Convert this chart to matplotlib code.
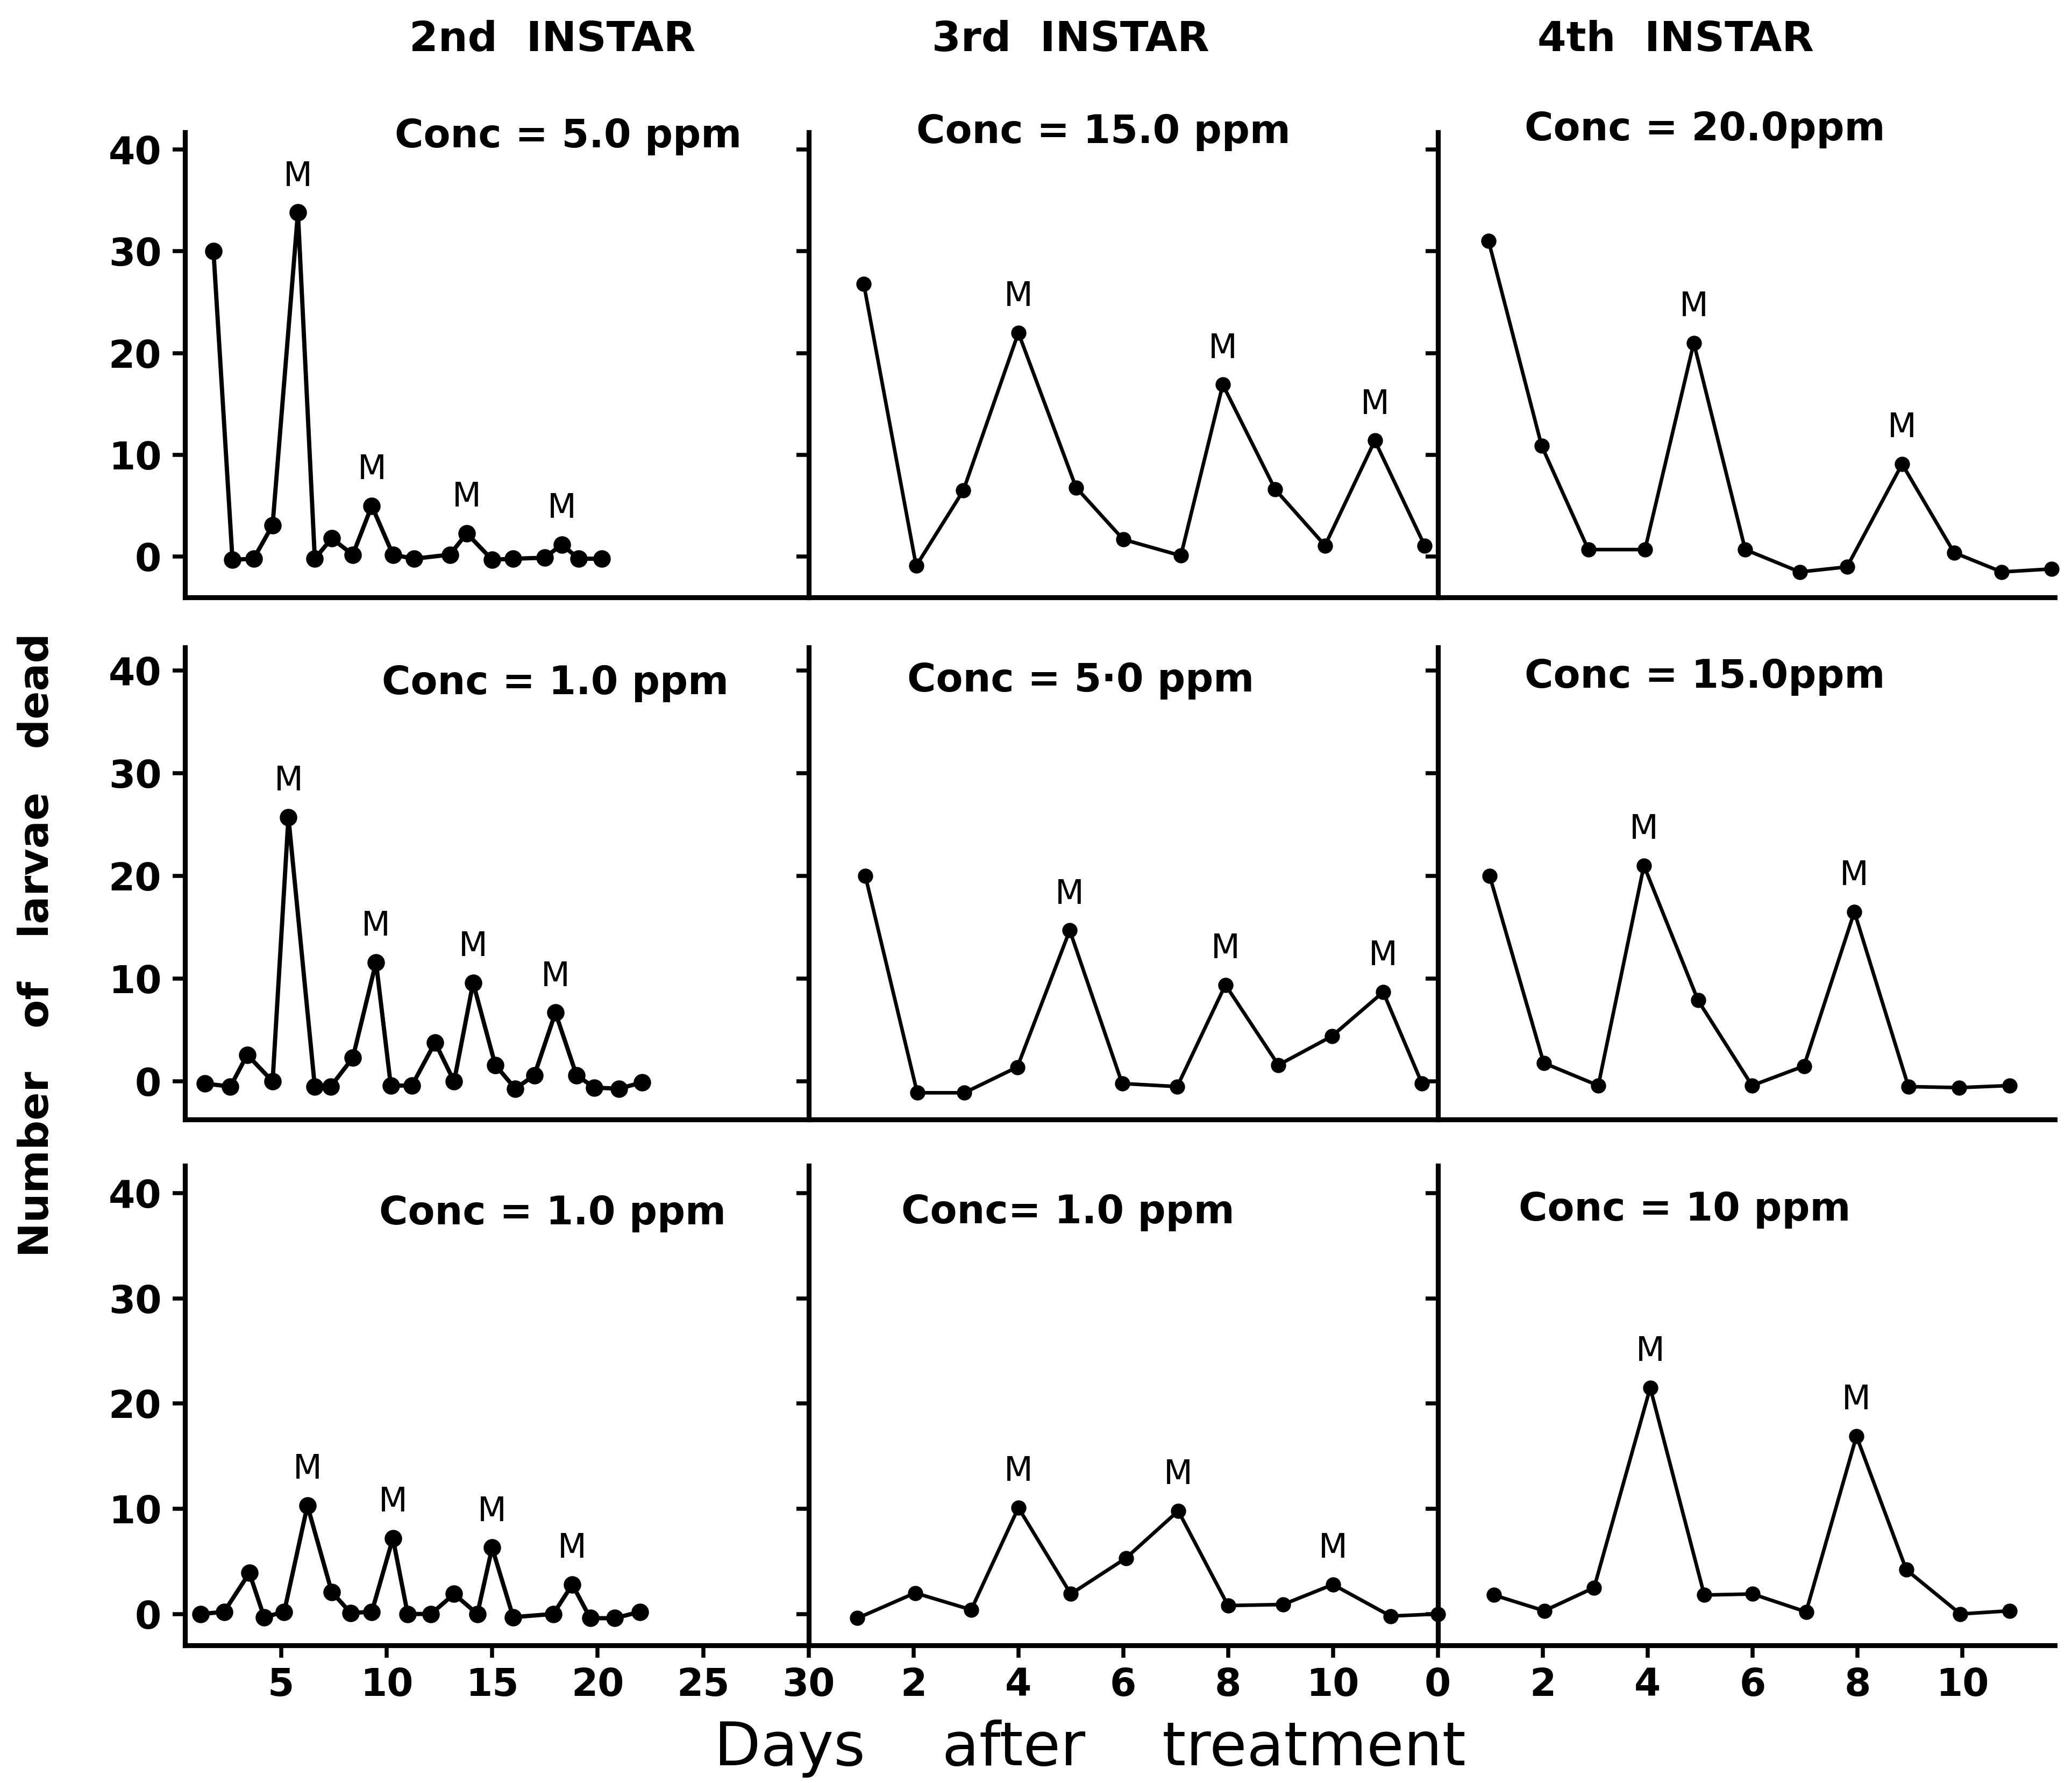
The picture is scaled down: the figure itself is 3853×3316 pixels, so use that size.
import matplotlib
matplotlib.use("Agg")
import matplotlib.pyplot as plt

plt.rcParams["font.family"] = ["DejaVu Sans"]

# ===================== data =====================
instar_titles = ["2nd  INSTAR", "3rd  INSTAR", "4th  INSTAR"]
conc_labels = [
    ["Conc = 5.0 ppm", "Conc = 15.0 ppm", "Conc = 20.0ppm"],
    ["Conc = 1.0 ppm", "Conc = 5·0 ppm", "Conc = 15.0ppm"],
    ["Conc = 1.0 ppm", "Conc= 1.0 ppm", "Conc = 10 ppm"],
]

# 2nd instar, 5.0 ppm
days_2nd_5 = [1.8, 2.7, 3.7, 4.6, 5.8, 6.6, 7.4, 8.4, 9.3, 10.3, 11.3, 13.0, 13.8, 15.0, 16.0, 17.5, 18.3, 19.1, 20.2]
dead_2nd_5 = [30.0, -0.3, -0.2, 3.1, 33.8, -0.2, 1.8, 0.2, 5.0, 0.2, -0.2, 0.2, 2.3, -0.3, -0.2, -0.1, 1.2, -0.2, -0.2]
molt_2nd_5 = [4, 8, 12, 16]

# 3rd instar, 15.0 ppm
days_3rd_15 = [1.05, 2.05, 2.95, 4.0, 5.1, 6.0, 7.1, 7.9, 8.9, 9.85, 10.8, 11.75]
dead_3rd_15 = [26.8, -0.9, 6.5, 22.0, 6.8, 1.7, 0.1, 16.9, 6.6, 1.1, 11.4, 1.1]
molt_3rd_15 = [3, 7, 10]

# 4th instar, 20.0 ppm
days_4th_20 = [0.97, 1.98, 2.87, 3.95, 4.88, 5.86, 6.9, 7.8, 8.85, 9.84, 10.75, 11.7]
dead_4th_20 = [31.0, 10.9, 0.7, 0.7, 21.0, 0.7, -1.5, -1.0, 9.1, 0.4, -1.5, -1.2]
molt_4th_20 = [4, 8]

# 2nd instar, 1.0 ppm (middle row)
days_2nd_1a = [1.4, 2.6, 3.4, 4.6, 5.35, 6.6, 7.35, 8.4, 9.5, 10.2, 11.2, 12.3, 13.2, 14.1, 15.15, 16.1, 17.0, 18.0, 19.0, 19.85, 21.0, 22.1]
dead_2nd_1a = [-0.2, -0.5, 2.6, 0.0, 25.7, -0.5, -0.5, 2.3, 11.6, -0.4, -0.4, 3.8, 0.0, 9.6, 1.6, -0.7, 0.6, 6.7, 0.6, -0.6, -0.7, -0.1]
molt_2nd_1a = [4, 8, 13, 17]

# 3rd instar, 5.0 ppm
days_3rd_5 = [1.08, 2.07, 2.97, 3.98, 4.98, 5.98, 7.03, 7.95, 8.96, 9.98, 10.96, 11.7]
dead_3rd_5 = [20.0, -1.1, -1.1, 1.4, 14.7, -0.2, -0.5, 9.4, 1.6, 4.4, 8.7, -0.2]
molt_3rd_5 = [4, 7, 10]

# 4th instar, 15.0 ppm
days_4th_15 = [0.99, 2.02, 3.06, 3.93, 4.96, 5.99, 6.98, 7.94, 8.97, 9.94, 10.9]
dead_4th_15 = [20.0, 1.8, -0.4, 21.0, 7.9, -0.4, 1.5, 16.5, -0.5, -0.6, -0.4]
molt_4th_15 = [3, 7]

# 2nd instar, 1.0 ppm (bottom row)
days_2nd_1b = [1.2, 2.3, 3.5, 4.2, 5.15, 6.25, 7.4, 8.3, 9.3, 10.3, 11.0, 12.1, 13.2, 14.3, 15.0, 16.0, 17.9, 18.8, 19.65, 20.8, 22.0]
dead_2nd_1b = [0.0, 0.2, 3.9, -0.3, 0.2, 10.3, 2.1, 0.1, 0.2, 7.2, 0.0, 0.0, 1.9, 0.0, 6.3, -0.3, 0.0, 2.8, -0.4, -0.4, 0.2]
molt_2nd_1b = [5, 9, 14, 17]

# 3rd instar, 1.0 ppm
days_3rd_1 = [0.93, 2.03, 3.1, 4.0, 5.0, 6.05, 7.05, 8.0, 9.05, 10.0, 11.1, 12.0]
dead_3rd_1 = [-0.4, 2.0, 0.4, 10.1, 1.9, 5.3, 9.8, 0.8, 0.9, 2.8, -0.2, 0.0]
molt_3rd_1 = [3, 6, 9]

# 4th instar, 10 ppm
days_4th_10 = [1.07, 2.03, 2.98, 4.05, 5.08, 6.0, 7.02, 7.98, 8.93, 9.96, 10.9]
dead_4th_10 = [1.8, 0.3, 2.5, 21.5, 1.8, 1.9, 0.2, 16.9, 4.2, 0.0, 0.3]
molt_4th_10 = [3, 7]

y_ticks = [0, 10, 20, 30, 40]
x_ticks = [[5, 10, 15, 20, 25, 30], [2, 4, 6, 8, 10], [0, 2, 4, 6, 8, 10]]

panels = [
    [(days_2nd_5, dead_2nd_5, molt_2nd_5), (days_3rd_15, dead_3rd_15, molt_3rd_15), (days_4th_20, dead_4th_20, molt_4th_20)],
    [(days_2nd_1a, dead_2nd_1a, molt_2nd_1a), (days_3rd_5, dead_3rd_5, molt_3rd_5), (days_4th_15, dead_4th_15, molt_4th_15)],
    [(days_2nd_1b, dead_2nd_1b, molt_2nd_1b), (days_3rd_1, dead_3rd_1, molt_3rd_1), (days_4th_10, dead_4th_10, molt_4th_10)],
]

# ===================== layout (reference pixels, 1568 x 1349) =====================
W, H = 1568.0, 1349.0
col_px = [(140, 612), (612, 1088), (1088, 1555)]
row_px = [(100, 452), (490, 847), (882, 1245)]
x_lims = [(0.45, 30), (0, 12), (0, 11.76)]
y_lims = [(-4.0, 41.7), (-3.7, 42.2), (-3.0, 42.6)]
conc_pos = [
    [(430, 103), (835, 100), (1290, 98)],
    [(420, 517), (818, 515), (1290, 512)],
    [(418, 918), (808, 917), (1275, 915)],
]
title_pos = [(418, 30), (810, 30), (1268, 30)]

fig = plt.figure(figsize=(3853 / 300, 3316 / 300), dpi=300)

for r in range(3):
    for c in range(3):
        x0, x1 = col_px[c]
        ytop, ybot = row_px[r]
        ax = fig.add_axes([x0 / W, 1 - ybot / H, (x1 - x0) / W, (ybot - ytop) / H])
        days, dead, molt = panels[r][c]
        lw, ms = (1.9, 6.8) if c == 0 else (1.6, 5.8)
        ax.plot(days, dead, color="black", lw=lw, marker="o", ms=ms, clip_on=False, zorder=3)
        for i in molt:
            ax.annotate("M", (days[i], dead[i]), xytext=(0, 16), textcoords="offset points",
                        ha="center", va="center", fontsize=15, fontweight="medium")

        ax.set_xlim(*x_lims[c])
        ax.set_ylim(*y_lims[r])
        ax.set_yticks(y_ticks)
        for s in ["top", "right"]:
            ax.spines[s].set_visible(False)
        for s in ["left", "bottom"]:
            ax.spines[s].set_linewidth(2.2)
        ax.set_facecolor("none")

        ax.tick_params(axis="y", direction="out", length=5.5, width=1.8, pad=5, labelsize=17)
        if c == 0:
            for lab in ax.get_yticklabels():
                lab.set_fontweight("bold")
        else:
            ax.set_yticklabels([])

        if r == 2:
            ax.set_xticks(x_ticks[c])
            ax.tick_params(axis="x", direction="out", length=5.5, width=1.8, pad=4, labelsize=17)
            for lab in ax.get_xticklabels():
                lab.set_fontweight("bold")
        else:
            ax.set_xticks([])

        cx, cy = conc_pos[r][c]
        fig.text(cx / W, 1 - cy / H, conc_labels[r][c], ha="center", va="center",
                 fontsize=17.5, fontweight="bold")

for (tx, ty), t in zip(title_pos, instar_titles):
    fig.text(tx / W, 1 - ty / H, t, ha="center", va="center", fontsize=18.5, fontweight="bold")

fig.text(28 / W, 1 - 715 / H, "Number   of   larvae   dead", rotation=90, ha="center", va="center",
         fontsize=18.5, fontweight="bold")
fig.text(825 / W, 1 - 1323 / H, "Days    after    treatment", ha="center", va="center", fontsize=27)

fig.savefig("out.png", dpi=300, facecolor="white")
